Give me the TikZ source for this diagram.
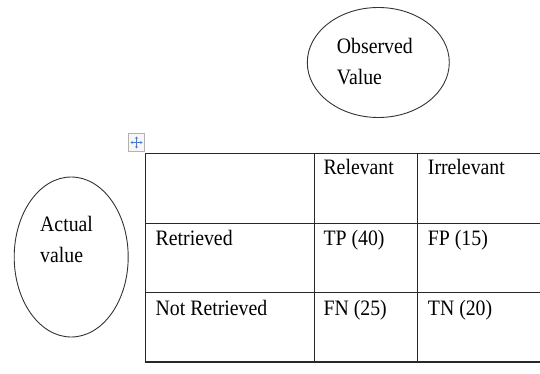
\documentclass[tikz,border=0pt]{standalone}
\usepackage{fontspec}
\setmainfont{Liberation Serif}[FakeStretch=0.9]
\usepackage{tikz}
\usetikzlibrary{shapes.geometric,arrows.meta}
\definecolor{grid}{RGB}{40,40,40}
\definecolor{handle}{RGB}{70,120,210}
\newcommand{\drawthick}{\draw[line width=1.3pt, grid]}
\newcommand{\celltext}[4]{\node[anchor=base west, inner sep=0pt] (#1) at (#3,#4) {#2};}
\tikzset{bubble/.style={draw=black!80, line width=0.9pt, ellipse, inner sep=0pt}}

\begin{document}
\begin{tikzpicture}[x=1pt,y=-1pt,font=\fontsize{22}{26}\selectfont]
\useasboundingbox (0,0) rectangle (540,374);
% ellipses
\node[bubble, minimum width=142pt, minimum height=110pt] (observed) at (378.3,62.5) {};
\node[bubble, minimum width=114pt, minimum height=160pt] (actual) at (71.2,257) {};
\celltext{obsA}{Observed}{336.7}{53.3}
\celltext{obsB}{Value}{336.7}{85}
\celltext{actA}{Actual}{40}{231.7}
\celltext{actB}{value}{40}{262.7}
% table move handle
\draw[draw=black!30, fill=black!3, line width=0.6pt] (128.5,133.5) rectangle (144.5,151.5);
\foreach \dx/\dy in {1/0,-1/0,0/1,0/-1}{
  \draw[handle, line width=0.9pt, -{Stealth[length=2.2pt,width=3pt]}] (136.5,142.5)--++(6*\dx,6*\dy);
}
% table
\foreach \y in {153.3,223.3,292.7,362}{
  \drawthick (145.3,\y)--(540,\y);
}
\foreach \x in {145.3,314.3,417.3}{
  \drawthick (\x,153.3)--(\x,362);
}
\celltext{rel}{Relevant}{323.3}{175}
\celltext{irr}{Irrelevant}{427.7}{175}
\celltext{ret}{Retrieved}{155.5}{245.6}
\celltext{tp}{TP (40)}{323.3}{245.6}
\celltext{fp}{FP (15)}{427.7}{245.6}
\celltext{nret}{Not Retrieved}{155.5}{315}
\celltext{fn}{FN (25)}{323.3}{315}
\celltext{tn}{TN (20)}{427.7}{315}
\end{tikzpicture}
\end{document}
